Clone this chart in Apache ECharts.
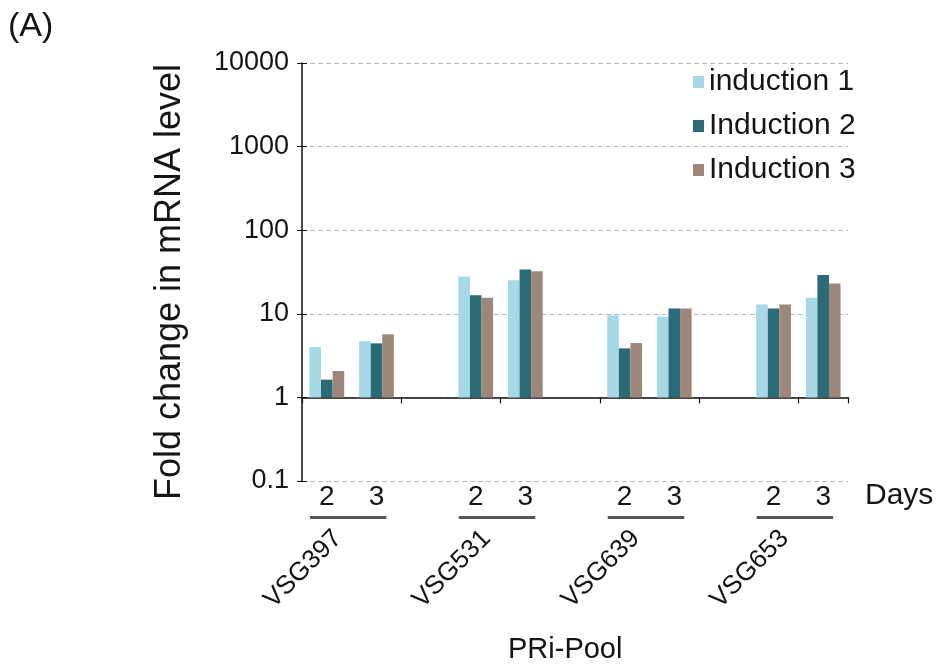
<!DOCTYPE html>
<html>
<head>
<meta charset="utf-8">
<script src="https://cdn.jsdelivr.net/npm/echarts@6/dist/echarts.min.js"></script>
<style>
  html, body { margin: 0; padding: 0; background: #fff; }
  #chart { width: 940px; height: 670px; }
</style>
</head>
<body>
<div id="chart"></div>
<script>
// PRi-Pool VSG transcripts, fold change after 2 and 3 days of induction
const groups = ['VSG397', 'VSG531', 'VSG639', 'VSG653'];
const days = ['2', '3'];
// values listed per group: day 2, day 3
const induction1 = [4.0, 4.7, 28.0, 25.2, 9.6, 9.2, 12.9, 15.6];
const induction2 = [1.63, 4.43, 16.7, 33.8, 3.86, 11.6, 11.6, 29.2];
const induction3 = [2.07, 5.68, 15.6, 32.3, 4.47, 11.6, 12.9, 23.0];
const seriesNames = ['induction 1', 'Induction 2', 'Induction 3'];
const seriesColors = ['#a6d8e5', '#2b6b77', '#9d877a'];
const yTicks = [0.1, 1, 10, 100, 1000, 10000];

const FONT = '"Liberation Sans", Arial, sans-serif';
const TEXT = '#151515';

// category slots: day 2, day 3 for each group, with an empty slot between groups
const slots = [];
const slotDay = [];
const slotIndex = [];   // index into the per-series value arrays, or -1 for spacer
groups.forEach((g, gi) => {
  days.forEach((d, di) => {
    slots.push(g + ' d' + d);
    slotDay.push(d);
    slotIndex.push(gi * days.length + di);
  });
  if (gi < groups.length - 1) {
    slots.push('gap ' + g);
    slotDay.push('');
    slotIndex.push(-1);
  }
});
const toSlots = arr => slotIndex.map(i => (i < 0 ? '-' : arr[i]));

// half-slot axis used to place each group name between its two days
const halfSlots = [];
for (let i = 0; i < slots.length * 2; i++) halfSlots.push('');
groups.forEach((g, gi) => { halfSlots[gi * 6 + 1] = g; });

const gridLeft = 302, gridRight = 92;
const gridTop = 63, gridBottom = 189, gridH = 670 - gridTop - gridBottom;
const yMin = yTicks[0], yMax = yTicks[yTicks.length - 1];
// the category axis sits on the value 1 line
const baseOffset = -gridH * (Math.log10(1) - Math.log10(yMin)) / (Math.log10(yMax) - Math.log10(yMin));

const chart = echarts.init(document.getElementById('chart'), null, { renderer: 'canvas' });

const barSeries = [induction1, induction2, induction3].map((arr, k) => ({
  name: seriesNames[k],
  type: 'bar',
  xAxisIndex: 0,
  yAxisIndex: 0,
  data: toSlots(arr),
  itemStyle: { color: seriesColors[k] },
  barGap: '0%',
  barCategoryGap: '30%'
}));

// short rules under each "2 3" pair
const underline = {
  type: 'lines',
  coordinateSystem: 'cartesian2d',
  xAxisIndex: 3,
  yAxisIndex: 2,
  silent: true,
  lineStyle: { color: '#555', width: 3, opacity: 1 },
  data: groups.map((g, gi) => ({ coords: [[gi * 3 + 0.16, 0.5], [gi * 3 + 1.7, 0.5]] }))
};

const yLabel = v => {
  const t = yTicks.find(x => Math.abs(Math.log10(x) - Math.log10(v)) < 1e-6);
  return t === undefined ? '' : String(t);
};

chart.setOption({
  animation: false,
  textStyle: { fontFamily: FONT, color: TEXT },
  title: [
    { text: '(A)', left: 3, top: 5, textStyle: { fontFamily: FONT, fontSize: 34, fontWeight: 'normal', color: TEXT } },
    { text: 'PRi-Pool', left: 503, top: 630, textStyle: { fontFamily: FONT, fontSize: 29, fontWeight: 'normal', color: TEXT } }
  ],
  legend: {
    orient: 'vertical',
    left: 688,
    top: 62,
    icon: 'rect',
    itemWidth: 11,
    itemHeight: 12,
    itemGap: 14,
    data: seriesNames,
    textStyle: { fontFamily: FONT, fontSize: 30, lineHeight: 30, color: TEXT }
  },
  grid: [
    { left: gridLeft, right: gridRight, top: gridTop, bottom: gridBottom },
    { left: gridLeft, right: gridRight, top: 507, height: 20 }
  ],
  xAxis: [
    {
      type: 'category', gridIndex: 0, data: slots, position: 'bottom', offset: baseOffset,
      axisLine: { show: true, lineStyle: { color: '#111', width: 1.5 } },
      axisTick: { show: true, inside: false, length: 6, lineStyle: { color: '#111', width: 1.2 } },
      axisLabel: { show: false },
      splitLine: { show: false }
    },
    {
      type: 'category', gridIndex: 0, data: slots, position: 'bottom', offset: 0,
      axisLine: { show: false }, axisTick: { show: false },
      axisLabel: { interval: 0, margin: 2, fontSize: 28, color: TEXT, fontFamily: FONT,
        formatter: (v, i) => slotDay[i] },
      name: 'Days', nameLocation: 'end', nameGap: 17,
      nameTextStyle: { fontSize: 30, color: TEXT, fontFamily: FONT, verticalAlign: 'top', padding: [0, 0, 0, 0] }
    },
    {
      type: 'category', gridIndex: 0, data: halfSlots, position: 'bottom', offset: 38,
      axisLine: { show: false }, axisTick: { show: false },
      axisLabel: { interval: 0, rotate: 45, margin: 14, fontSize: 26, color: TEXT, fontFamily: FONT,
        padding: [0, 2, 0, 0] }
    },
    {
      type: 'value', gridIndex: 1, min: 0, max: slots.length, show: false
    }
  ],
  yAxis: [
    {
      type: 'log', logBase: 10, gridIndex: 0, min: yMin, max: yMax,
      name: 'Fold change in mRNA level', nameLocation: 'middle', nameGap: 114,
      nameTextStyle: { fontSize: 36, color: TEXT, fontFamily: FONT, padding: [0, 20, 0, 0] },
      axisLine: { show: true, lineStyle: { color: '#111', width: 1.5 } },
      axisTick: { show: true, inside: false, length: 5, lineStyle: { color: '#111' } },
      axisLabel: { fontSize: 27, margin: 13, color: TEXT, fontFamily: FONT, formatter: yLabel },
      splitLine: { show: true, lineStyle: { color: '#b8b8b8', type: [5, 3], width: 1 } }
    },
    {
      // inner half of the crossing tick marks
      type: 'log', logBase: 10, gridIndex: 0, min: yMin, max: yMax, position: 'left',
      axisLine: { show: false },
      axisTick: { show: true, inside: true, length: 5, lineStyle: { color: '#111' } },
      axisLabel: { show: false },
      splitLine: { show: false }
    },
    { type: 'value', gridIndex: 1, min: 0, max: 1, show: false }
  ],
  series: barSeries.concat([underline])
});
</script>
</body>
</html>
